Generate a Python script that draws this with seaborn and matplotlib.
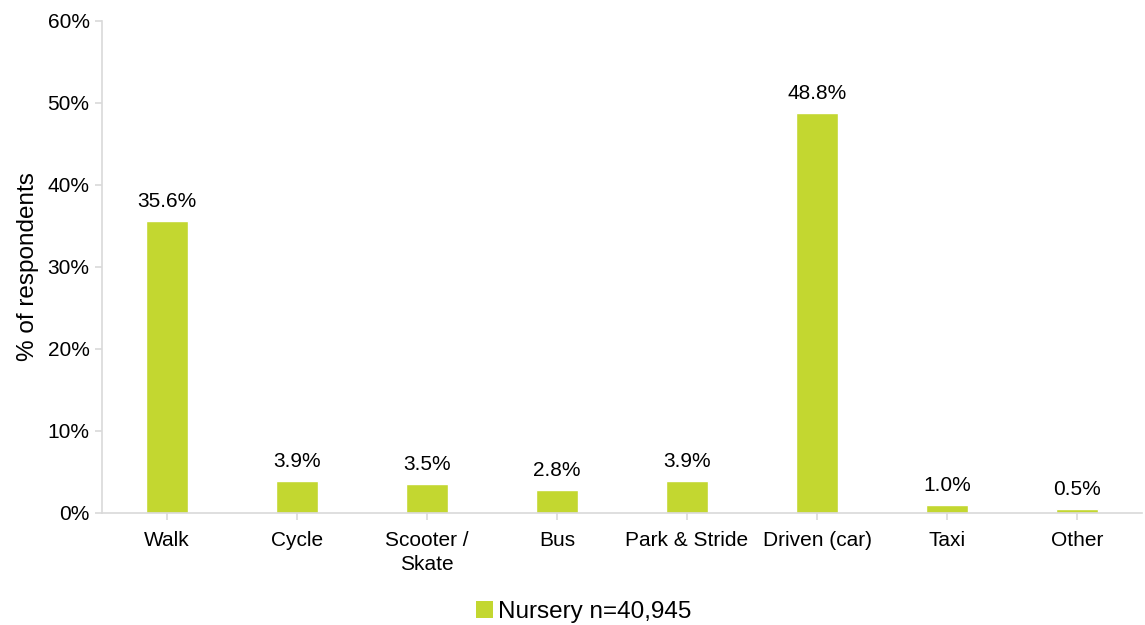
import matplotlib
matplotlib.use("Agg")
import matplotlib.pyplot as plt
import seaborn as sns
import pandas as pd
from matplotlib.patches import Patch

categories = ["Walk", "Cycle", "Scooter /\nSkate", "Bus", "Park & Stride", "Driven (car)", "Taxi", "Other"]
values = [35.6, 3.9, 3.5, 2.8, 3.9, 48.8, 1.0, 0.5]
y_ticks = [0, 10, 20, 30, 40, 50, 60]
series_label = "Nursery n=40,945"
color = "#C3D730"

sns.set_theme(style="white")
plt.rcParams['font.family'] = ['Liberation Sans', 'DejaVu Sans']

df = pd.DataFrame({"cat": categories, "val": values})

fig = plt.figure(figsize=(11.45, 6.25), dpi=100)
ax = fig.add_axes([0.0891, 0.1792, 0.9083, 0.7872])
sns.barplot(data=df, x="cat", y="val", color=color, width=0.32, ax=ax, saturation=1)

ax.set_ylim(0, 60)
ax.set_xlim(-0.5, len(categories) - 0.5)
ax.set_yticks(y_ticks)
ax.set_yticklabels([f"{t}%" for t in y_ticks], fontsize=15, color="#000000")
ax.set_xticklabels(categories, fontsize=15, color="#000000", linespacing=1.3)
ax.set_xlabel("")
ax.set_ylabel("% of respondents", fontsize=17.5, color="#000000", labelpad=6)

for s in ["top", "right"]:
    ax.spines[s].set_visible(False)
for s in ["left", "bottom"]:
    ax.spines[s].set_color("#D9D9D9")
    ax.spines[s].set_linewidth(1.2)
ax.tick_params(axis="both", which="both", length=5, color="#D9D9D9", width=1.2,
               bottom=True, left=True, pad=4)
ax.tick_params(axis="x", pad=8)

for i, v in enumerate(values):
    ax.text(i, v + 1.2, f"{v:.1f}%", ha="center", va="bottom", fontsize=15, color="#000000")

ax.legend(handles=[Patch(facecolor=color, edgecolor="none", label=series_label)],
          loc="center", bbox_to_anchor=(0.51, 0.021), bbox_transform=fig.transFigure,
          frameon=False, fontsize=17.5, handlelength=0.7, handleheight=0.7,
          handletextpad=0.2, borderpad=0, borderaxespad=0, labelcolor="#000000")

fig.savefig("out.png", dpi=100)
